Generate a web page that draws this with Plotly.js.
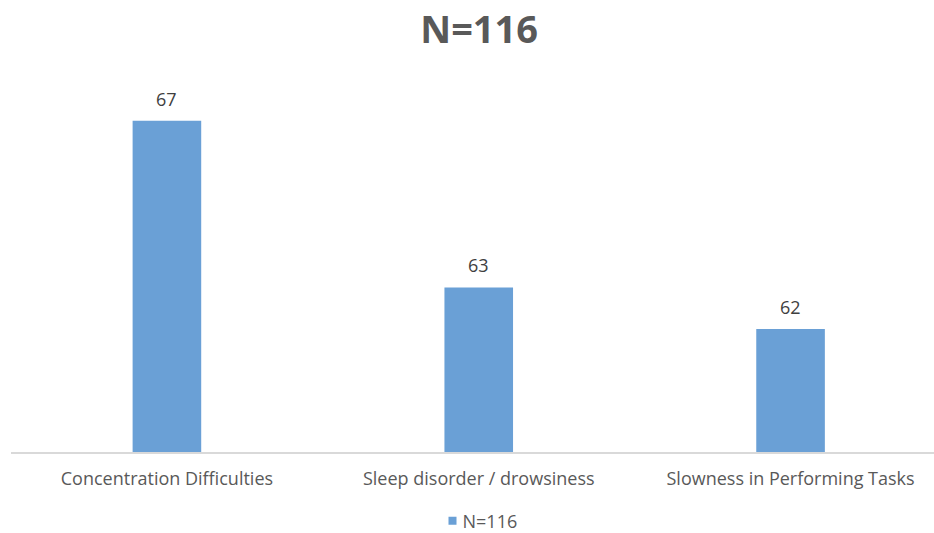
<!DOCTYPE html>
<html>
<head>
<meta charset="utf-8">
<script src="https://cdn.plot.ly/plotly-3.0.1.min.js"></script>
<style>
  html, body { margin: 0; padding: 0; background: #ffffff; }
  #chart { width: 934px; height: 533px; }
</style>
</head>
<body>
<div id="chart"></div>
<script>
const categories = ["Concentration Difficulties", "Sleep disorder / drowsiness", "Slowness in Performing Tasks"];
const values = [67, 63, 62];
const seriesName = "N=116";
const chartTitle = "N=116";

const FONT = "Open Sans, DejaVu Sans, sans-serif";

const trace = {
  type: "bar",
  x: categories,
  y: values,
  name: seriesName,
  marker: { color: "#6aa0d6", line: { width: 0 } },
  hoverinfo: "x+y",
  showlegend: true
};

const annotations = categories.map((c, i) => ({
  x: c, y: values[i], xref: "x", yref: "y",
  text: String(values[i]),
  showarrow: false, yanchor: "bottom", yshift: 8,
  font: { family: FONT, size: 18, color: "#404040" }
}));

const layout = {
  width: 934, height: 533,
  margin: { l: 11, r: 0, t: 79, b: 81, autoexpand: false },
  paper_bgcolor: "#ffffff", plot_bgcolor: "#ffffff",
  title: {
    text: "<b>" + chartTitle + "</b>",
    x: 0.513, xanchor: "center", xref: "container",
    y: 0.944, yanchor: "middle",
    font: { family: FONT, size: 38, color: "#595959" }
  },
  bargap: 0.78,
  xaxis: {
    type: "category",
    range: [-0.5, 2.46],
    showline: true, linecolor: "#d9d9d9", linewidth: 1.5,
    showgrid: false, zeroline: false, ticks: "",
    ticklabelstandoff: 10,
    automargin: false,
    tickfont: { family: FONT, size: 18, color: "#595959" }
  },
  yaxis: {
    range: [59.05, 68],
    visible: false, showgrid: false, zeroline: false
  },
  showlegend: true,
  legend: {
    orientation: "h", x: 0.5, xanchor: "center", xref: "paper",
    y: -0.185, yanchor: "middle",
    font: { family: FONT, size: 18, color: "#595959" },
    itemwidth: 30
  },
  annotations: annotations
};

Plotly.newPlot("chart", [trace], layout, { displayModeBar: false, staticPlot: true }).then(function (gd) {
  try {
    gd.querySelectorAll(".legend .legendpoints path").forEach(function (p) {
      p.setAttribute("d", "M14,4H6V-4H14Z");
    });
  } catch (e) { console.error(e); }
});
</script>
</body>
</html>
